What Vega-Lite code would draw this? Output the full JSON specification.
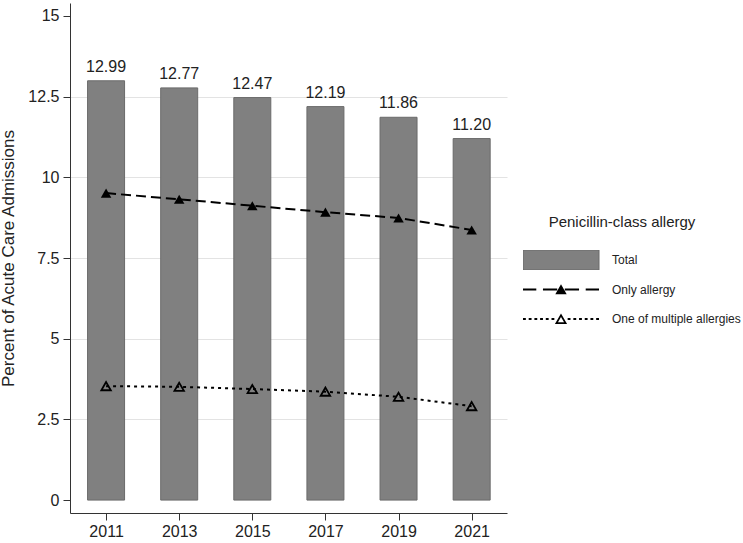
{
  "$schema": "https://vega.github.io/schema/vega-lite/v6.json",
  "width": 437,
  "height": 510,
  "autosize": "none",
  "padding": {"left": 70, "top": 3, "right": 236, "bottom": 30},
  "background": "white",
  "config": {
    "view": {"stroke": null},
    "font": "Liberation Sans",
    "axis": {"labelFont": "Liberation Sans", "titleFont": "Liberation Sans", "labelColor": "#222", "titleColor": "#222"}
  },
  "data": {
    "values": [
      {"year": 2011, "series": "Total", "value": 12.99},
      {"year": 2013, "series": "Total", "value": 12.77},
      {"year": 2015, "series": "Total", "value": 12.47},
      {"year": 2017, "series": "Total", "value": 12.19},
      {"year": 2019, "series": "Total", "value": 11.86},
      {"year": 2021, "series": "Total", "value": 11.20},
      {"year": 2011, "series": "Only allergy", "value": 9.51},
      {"year": 2013, "series": "Only allergy", "value": 9.32},
      {"year": 2015, "series": "Only allergy", "value": 9.12},
      {"year": 2017, "series": "Only allergy", "value": 8.92},
      {"year": 2019, "series": "Only allergy", "value": 8.74},
      {"year": 2021, "series": "Only allergy", "value": 8.37},
      {"year": 2011, "series": "One of multiple allergies", "value": 3.53},
      {"year": 2013, "series": "One of multiple allergies", "value": 3.51},
      {"year": 2015, "series": "One of multiple allergies", "value": 3.44},
      {"year": 2017, "series": "One of multiple allergies", "value": 3.36},
      {"year": 2019, "series": "One of multiple allergies", "value": 3.20},
      {"year": 2021, "series": "One of multiple allergies", "value": 2.91}
    ]
  },
  "encoding": {
    "x": {
      "field": "year", "type": "quantitative",
      "scale": {"domain": [2010.15, 2021.83], "nice": false, "zero": false},
      "axis": {
        "title": null, "values": [2011, 2013, 2015, 2017, 2019, 2021], "format": "d",
        "grid": false, "labelFontSize": 16, "tickSize": 7, "labelPadding": 3,
        "domainColor": "#333", "tickColor": "#333", "labelFlush": false
      }
    },
    "y": {
      "field": "value", "type": "quantitative",
      "scale": {"domain": [-0.4, 15.4], "nice": false, "zero": false},
      "axis": {
        "title": "Percent of Acute Care Admissions", "titleFontSize": 17, "titleFontWeight": "normal",
        "titlePadding": 10,
        "values": [0, 2.5, 5, 7.5, 10, 12.5, 15], "format": ".1~f",
        "labelFontSize": 16, "tickSize": 7, "labelPadding": 4,
        "domainColor": "#333", "tickColor": "#333",
        "grid": true, "gridColor": "#e3e3e3", "gridWidth": 1,
        "gridOpacity": {"condition": {"test": "datum.value == 0 || datum.value == 15", "value": 0}, "value": 1}
      }
    }
  },
  "layer": [
    {
      "transform": [{"filter": "datum.series == 'Total'"}],
      "mark": {"type": "bar", "width": 37, "stroke": "#6a6a6a", "strokeWidth": 1},
      "encoding": {
        "y2": {"datum": 0},
        "fill": {
          "field": "series", "type": "nominal",
          "scale": {"domain": ["Total", "Only allergy", "One of multiple allergies"], "range": ["#808080", "#000000", "#000000"]},
          "legend": {
            "title": "Penicillin-class allergy",
            "orient": "none", "legendX": 453, "legendY": 212,
            "direction": "vertical",
            "titleFontSize": 15, "titleFontWeight": "normal", "titleColor": "#222", "titleFont": "Liberation Sans",
            "titleAnchor": "middle", "titlePadding": 20,
            "labelFontSize": 12, "labelColor": "#222", "labelFont": "Liberation Sans",
            "symbolSize": 361, "symbolStrokeWidth": 1, "symbolOffset": 28, "labelOffset": 41,
            "clipHeight": 20,
            "rowPadding": 9.5, "padding": 0,
            "encoding": {
              "title": {"dx": {"value": -10}},
              "symbols": {
                "shape": {
                  "condition": [
                    {"test": "datum.value === 'Total'", "value": "M-4,-1.05H4V1.05H-4Z"},
                    {"test": "datum.value === 'Only allergy'", "value": "M-4,-0.1H-2.6V0.1H-4Z M-1.9,-0.1H-0.4V0.1H-1.9Z M0.4,-0.1H1.9V0.1H0.4Z M2.6,-0.1H4V0.1H2.6Z M0,-0.55L0.6,0.5H-0.6Z"}
                  ],
                  "value": "M-4,-0.1H-3.7V0.1H-4Z M-3.4,-0.1H-3.1V0.1H-3.4Z M-2.8,-0.1H-2.5V0.1H-2.8Z M-2.2,-0.1H-1.9V0.1H-2.2Z M-1.6,-0.1H-1.3V0.1H-1.6Z M-1.0,-0.1H-0.7V0.1H-1.0Z M0.7,-0.1H1.0V0.1H0.7Z M1.3,-0.1H1.6V0.1H1.3Z M1.9,-0.1H2.2V0.1H1.9Z M2.5,-0.1H2.8V0.1H2.5Z M3.1,-0.1H3.4V0.1H3.1Z M3.7,-0.1H4.0V0.1H3.7Z M0,-0.58L0.64,0.52L-0.64,0.52Z M0,-0.2L-0.32,0.34L0.32,0.34Z"
                },
                "fill": {"condition": {"test": "datum.value === 'Total'", "value": "#808080"}, "value": "#000000"},
                "stroke": {"condition": {"test": "datum.value === 'Total'", "value": "#6a6a6a"}, "value": "transparent"},
                "opacity": {"value": 1}
              }
            }
          }
        }
      }
    },
    {
      "transform": [{"filter": "datum.series == 'Total'"}],
      "mark": {"type": "text", "baseline": "bottom", "dy": -6, "fontSize": 16, "color": "#222", "font": "Liberation Sans"},
      "encoding": {"text": {"field": "value", "type": "quantitative", "format": ".2f"}}
    },
    {
      "transform": [{"filter": "datum.series == 'Only allergy'"}],
      "mark": {"type": "line", "color": "#000", "strokeWidth": 2, "strokeDash": [10, 5]},
      "encoding": {}
    },
    {
      "transform": [{"filter": "datum.series == 'One of multiple allergies'"}],
      "mark": {"type": "line", "color": "#000", "strokeWidth": 2, "strokeDash": [3, 4]},
      "encoding": {}
    },
    {
      "transform": [{"filter": "datum.series == 'Only allergy'"}],
      "mark": {"type": "point", "shape": "triangle-up", "filled": true, "color": "#000", "size": 110, "opacity": 1},
      "encoding": {}
    },
    {
      "transform": [{"filter": "datum.series == 'One of multiple allergies'"}],
      "mark": {"type": "point", "shape": "triangle-up", "filled": false, "color": "#000", "size": 90, "strokeWidth": 1.8, "opacity": 1},
      "encoding": {}
    }
  ]
}
